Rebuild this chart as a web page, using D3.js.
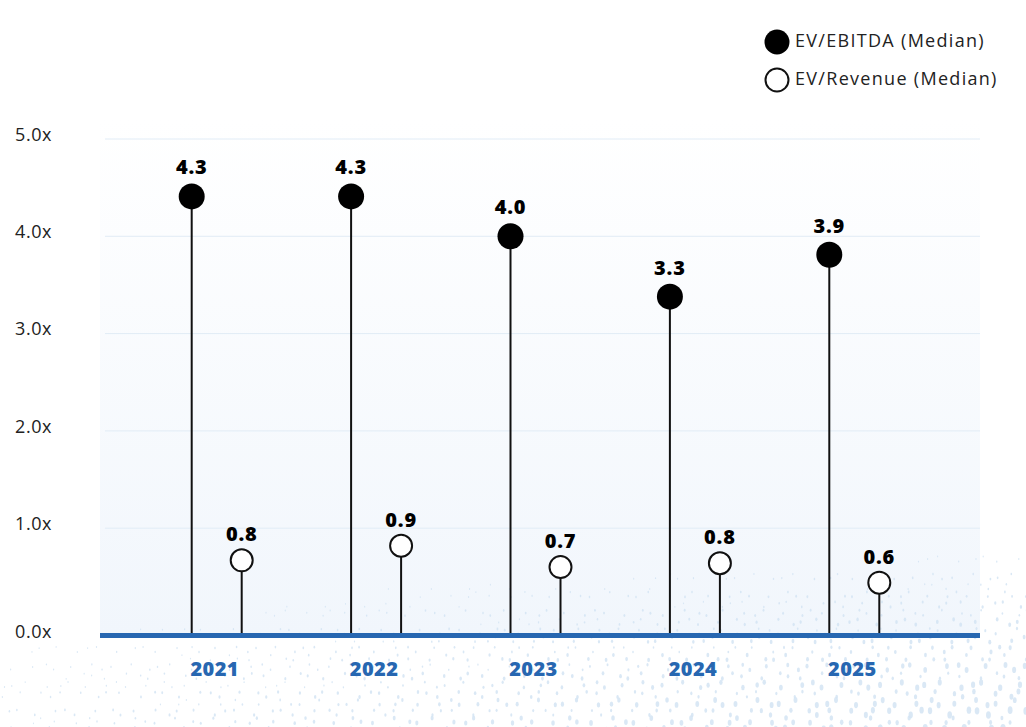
<!DOCTYPE html>
<html>
<head>
<meta charset="utf-8">
<script src="https://cdn.jsdelivr.net/npm/d3@7"></script>
<style>
  html, body { margin: 0; padding: 0; background: #ffffff; }
  svg { display: block; }
</style>
</head>
<body>
<svg id="chart" width="1026" height="727"></svg>
<script>
// ---- data ----
const years = ["2021", "2022", "2023", "2024", "2025"];
const ebitda = [4.41, 4.41, 4.0, 3.38, 3.81];          // plotted positions (as drawn)
const revenue = [0.67, 0.82, 0.60, 0.64, 0.44];        // plotted positions (as drawn)
const ebitdaLabels = ["4.3", "4.3", "4.0", "3.3", "3.9"];
const revenueLabels = ["0.8", "0.9", "0.7", "0.8", "0.6"];
const yTicks = [0, 1, 2, 3, 4, 5];
const yTickLabels = ["0.0x", "1.0x", "2.0x", "3.0x", "4.0x", "5.0x"];
const seriesNames = ["EV/EBITDA (Median)", "EV/Revenue (Median)"];

// ---- layout ----
const svg = d3.select("#chart");
const W = 1026, H = 727;
const plotLeft = 100, plotRight = 980;
const baseY = 635.5;

const x = d3.scaleBand().domain(years).range([137, 934]).padding(0);
const y = d3.scaleLinear().domain([0, 5]).range([625.5, 139]);

const blue = "#2767b1";
const font = "'Open Sans', 'Lato', sans-serif";

// background gradient
const defs = svg.append("defs");
const grad = defs.append("linearGradient").attr("id", "bg").attr("x1", 0).attr("y1", 0).attr("x2", 0).attr("y2", 1);
grad.append("stop").attr("offset", "0%").attr("stop-color", "#ffffff");
grad.append("stop").attr("offset", "100%").attr("stop-color", "#f1f6fc");

svg.append("rect")
  .attr("x", plotLeft).attr("y", 120)
  .attr("width", plotRight - plotLeft).attr("height", baseY - 120)
  .attr("fill", "url(#bg)");

// decorative halftone texture (background ornament, not data)
const tex = [];
for (let gx = 0; gx < 72; gx++) {
  for (let gy = 0; gy < 26; gy++) {
    const px = gx * 14.5 + (gy % 2) * 7 + 5 * Math.sin(gx * 1.7 + gy * 2.3);
    const py = 505 + gy * 9 + 3 * Math.cos(gx * 2.1 + gy * 0.9);
    const t = Math.max(0, (py - 505) / 222) * (0.3 + 0.7 * px / 1026);
    const r = t * 3.4 * (0.55 + 0.45 * Math.abs(Math.sin(gx * 3.1 + gy * 1.3)));
    if (r > 0.7) tex.push([px, py, r]);
  }
}
svg.append("g").selectAll("ellipse").data(tex).join("ellipse")
  .attr("cx", d => d[0]).attr("cy", d => d[1])
  .attr("rx", d => d[2] * 0.8).attr("ry", d => d[2] * 1.25)
  .attr("fill", "#d3e4f3").attr("opacity", 0.85);

// gridlines
svg.append("g").selectAll("line").data(yTicks.filter(d => d > 0)).join("line")
  .attr("x1", plotLeft + 5).attr("x2", plotRight)
  .attr("y1", d => y(d)).attr("y2", d => y(d))
  .attr("stroke", "#e1ecf6").attr("stroke-width", 1);

// y tick labels
svg.append("g").selectAll("text").data(yTicks).join("text")
  .attr("x", 15)
  .attr("y", d => d === 0 ? baseY - 2 : y(d) - 3)
  .attr("dominant-baseline", "middle")
  .attr("font-family", font).attr("font-size", 18).attr("letter-spacing", 0.6).attr("fill", "#222")
  .text((d, i) => yTickLabels[i]);

const cx = (yr) => x(yr) + x.bandwidth() / 2;

// stems
const stems = svg.append("g").attr("stroke", "#111").attr("stroke-width", 2);
stems.selectAll(".se").data(years).join("line").attr("class", "se")
  .attr("x1", d => cx(d) - 25).attr("x2", d => cx(d) - 25)
  .attr("y1", (d, i) => y(ebitda[i])).attr("y2", baseY);
stems.selectAll(".sr").data(years).join("line").attr("class", "sr")
  .attr("x1", d => cx(d) + 25).attr("x2", d => cx(d) + 25)
  .attr("y1", (d, i) => y(revenue[i])).attr("y2", baseY);

// baseline
svg.append("line")
  .attr("x1", plotLeft).attr("x2", plotRight)
  .attr("y1", baseY).attr("y2", baseY)
  .attr("stroke", blue).attr("stroke-width", 5);

// dots
svg.append("g").selectAll("circle").data(years).join("circle")
  .attr("cx", d => cx(d) - 25).attr("cy", (d, i) => y(ebitda[i]))
  .attr("r", 13).attr("fill", "#000");
svg.append("g").selectAll("circle").data(years).join("circle")
  .attr("cx", d => cx(d) + 25).attr("cy", (d, i) => y(revenue[i]))
  .attr("r", 11).attr("fill", "#fff").attr("stroke", "#111").attr("stroke-width", 2);

// value labels
svg.append("g").selectAll("text").data(years).join("text")
  .attr("x", d => cx(d) - 25).attr("y", (d, i) => y(ebitda[i]) - 22)
  .attr("text-anchor", "middle")
  .attr("font-family", font).attr("font-weight", 800).attr("font-size", 20).attr("letter-spacing", 0.8).attr("fill", "#000")
  .text((d, i) => ebitdaLabels[i]);
svg.append("g").selectAll("text").data(years).join("text")
  .attr("x", d => cx(d) + 25).attr("y", (d, i) => y(revenue[i]) - 19)
  .attr("text-anchor", "middle")
  .attr("font-family", font).attr("font-weight", 800).attr("font-size", 20).attr("letter-spacing", 0.8).attr("fill", "#000")
  .text((d, i) => revenueLabels[i]);

// year labels
svg.append("g").selectAll("text").data(years).join("text")
  .attr("x", d => cx(d) - 2).attr("y", 676)
  .attr("text-anchor", "middle")
  .attr("font-family", font).attr("font-weight", 800).attr("font-size", 20).attr("letter-spacing", 0.4).attr("fill", blue)
  .text(d => d);

// legend
const lg = svg.append("g");
lg.append("circle").attr("cx", 777).attr("cy", 42).attr("r", 12.5).attr("fill", "#000");
lg.append("circle").attr("cx", 777).attr("cy", 80).attr("r", 11.5).attr("fill", "#fff")
  .attr("stroke", "#111").attr("stroke-width", 2);
lg.selectAll("text").data(seriesNames).join("text")
  .attr("x", 795).attr("y", (d, i) => 42 + i * 38)
  .attr("dominant-baseline", "middle")
  .attr("font-family", font).attr("font-size", 18).attr("letter-spacing", 1.3).attr("fill", "#222")
  .text(d => d);
</script>
</body>
</html>
